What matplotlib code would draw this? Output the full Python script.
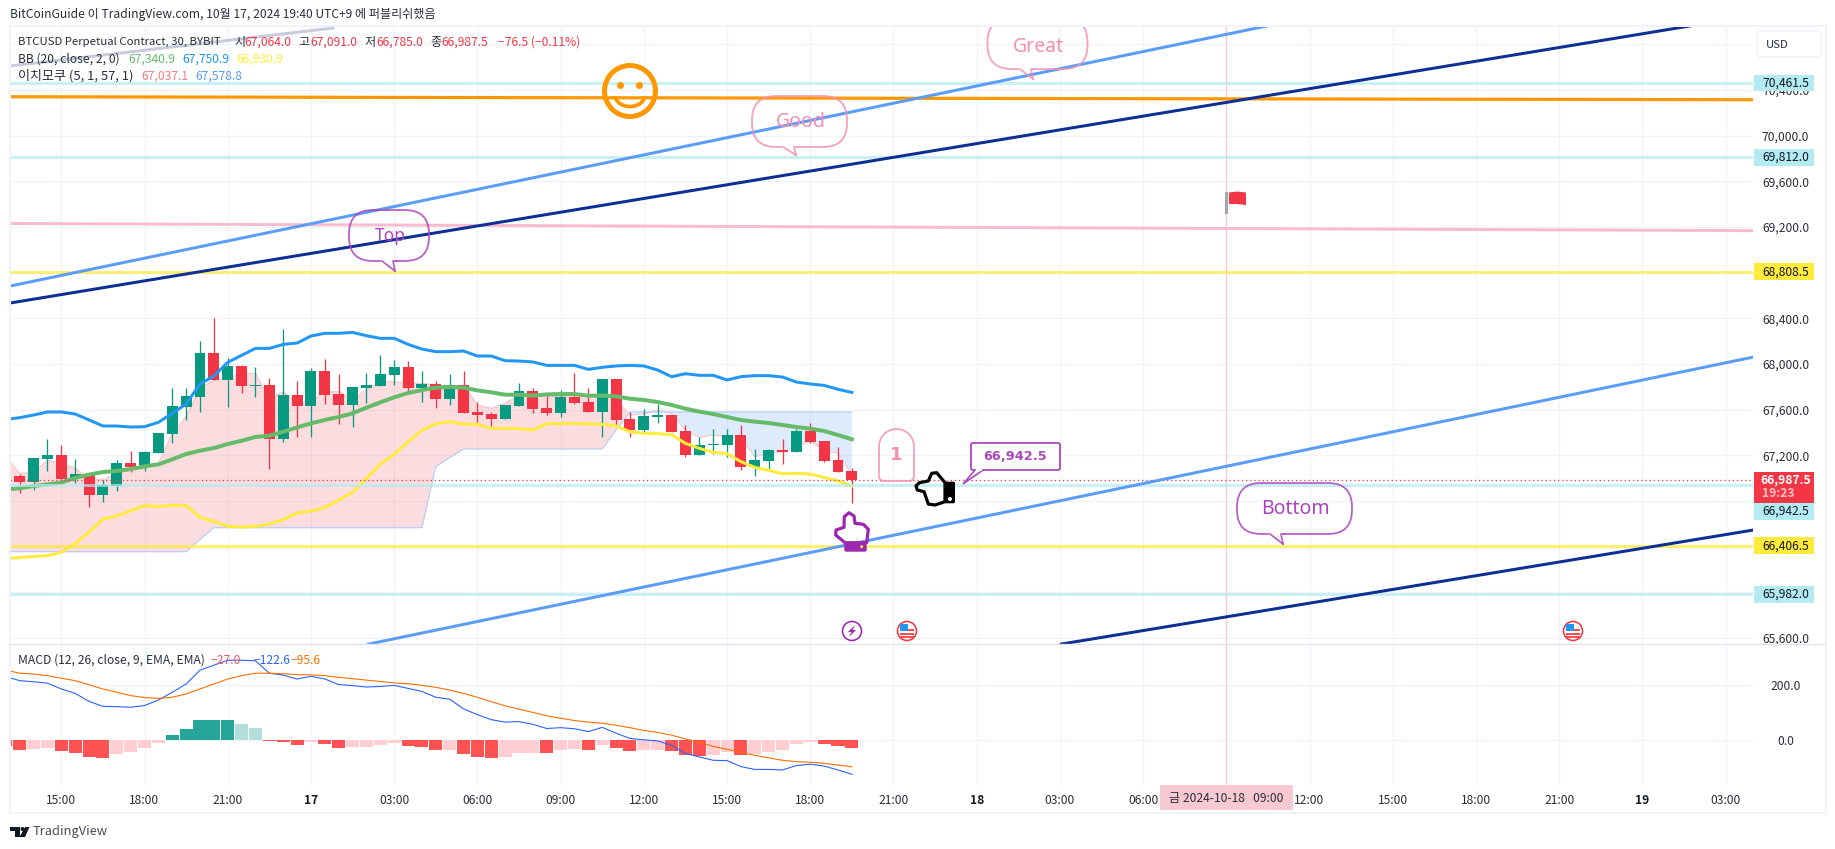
#!/usr/bin/env python3
"""
BTCUSD 30m TradingView snapshot - candles, BB, Ichimoku cloud, MACD and drawings
"""

import numpy as np
import matplotlib
matplotlib.use('Agg')  # Non-interactive backend
import matplotlib.pyplot as plt
from matplotlib.patches import Rectangle, FancyBboxPatch, Ellipse, Arc, Circle, Polygon, PathPatch
from matplotlib.path import Path
from matplotlib.transforms import blended_transform_factory

plt.rcParams['font.family'] = ['Noto Sans CJK KR', 'DejaVu Sans']

# ==================== Data ====================
# bars are numbered from 15:00 on the 16th, 30 minutes each
candle_start = -3
opens = [67019, 66969, 67168, 67203, 67002, 67037, 66853, 66931, 67133, 67115, 67220, 67387, 67623, 67711, 68096,
         67860, 67982, 67807, 67816, 67343, 67728, 67632, 67939, 67737, 67641, 67790, 67807, 67904, 67974, 67790,
         67825, 67693, 67816, 67580, 67562, 67518, 67632, 67764, 67615, 67571, 67711, 67667, 67580, 67869, 67518,
         67422, 67536, 67553, 67413, 67203, 67291, 67291, 67378, 67098, 67150, 67247, 67229, 67413, 67326, 67159,
         67064]
highs = [67037, 67177, 67343, 67291, 67168, 67037, 66984, 67159, 67238, 67238, 67396, 67790, 67790, 68202, 68403,
         68053, 67991, 67974, 67877, 68307, 67851, 67965, 68044, 67912, 67799, 67921, 68079, 68035, 68026, 67939,
         67851, 67912, 67939, 67667, 67580, 67641, 67834, 67790, 67720, 67772, 67921, 67790, 67869, 67869, 67580,
         67606, 67650, 67553, 67466, 67361, 67431, 67431, 67466, 67255, 67255, 67343, 67431, 67483, 67326, 67273,
         67091]
lows = [66873, 66896, 67063, 66984, 66961, 66747, 66791, 66888, 67054, 67063, 67220, 67308, 67510, 67580, 67860,
        67623, 67746, 67711, 67080, 67317, 67361, 67361, 67650, 67474, 67448, 67658, 67807, 67816, 67764, 67667,
        67615, 67641, 67574, 67492, 67457, 67518, 67632, 67571, 67553, 67536, 67650, 67580, 67361, 67466, 67361,
        67404, 67483, 67404, 67185, 67203, 67212, 67185, 67072, 67019, 67080, 67124, 67229, 67308, 67142, 67054,
        66785]
closes = [66969, 67177, 67203, 66993, 67037, 66853, 66940, 67133, 67098, 67229, 67396, 67632, 67720, 68096, 67860,
          67982, 67807, 67816, 67343, 67728, 67632, 67939, 67728, 67641, 67799, 67816, 67912, 67974, 67790, 67825,
          67693, 67816, 67574, 67553, 67518, 67641, 67764, 67606, 67571, 67711, 67658, 67580, 67869, 67510, 67422,
          67545, 67553, 67404, 67203, 67291, 67299, 67378, 67098, 67159, 67247, 67229, 67413, 67317, 67150, 67054,
          66987.5]

# indicators start one bar earlier than the candles
indicator_start = -4
bb_upper = [67515, 67530, 67553, 67580, 67580, 67562, 67510, 67457, 67457, 67448, 67451, 67489, 67568, 67650, 67825,
            67895, 68015, 68076, 68137, 68137, 68172, 68184, 68245, 68269, 68269, 68277, 68248, 68225, 68225, 68172,
            68131, 68108, 68108, 68114, 68070, 68070, 68029, 68026, 68018, 67988, 67988, 67988, 67953, 67971, 67983,
            67988, 67983, 67947, 67889, 67915, 67901, 67901, 67860, 67889, 67898, 67898, 67886, 67842, 67825, 67813,
            67778, 67750.9]
bb_basis = [66902, 66911, 66931, 66946, 66961, 67002, 67031, 67054, 67063, 67080, 67104, 67121, 67165, 67212, 67241,
            67264, 67299, 67328, 67361, 67372, 67407, 67445, 67480, 67510, 67536, 67568, 67618, 67664, 67708, 67746,
            67772, 67793, 67799, 67793, 67769, 67752, 67731, 67731, 67723, 67734, 67737, 67737, 67723, 67723, 67717,
            67696, 67685, 67667, 67641, 67609, 67583, 67562, 67536, 67510, 67495, 67483, 67466, 67448, 67434, 67413,
            67378, 67340.9]
bb_lower = [66298, 66304, 66315, 66321, 66350, 66429, 66526, 66642, 66669, 66715, 66759, 66750, 66762, 66759, 66657,
            66622, 66578, 66572, 66578, 66598, 66639, 66695, 66712, 66744, 66809, 66876, 66998, 67124, 67209, 67320,
            67419, 67477, 67495, 67472, 67472, 67436, 67436, 67434, 67422, 67477, 67480, 67480, 67474, 67472, 67457,
            67407, 67393, 67390, 67381, 67305, 67261, 67226, 67215, 67145, 67095, 67069, 67039, 67042, 67036, 67007,
            66975, 66930.9]
lead_1 = [67188, 67042, 67051, 67156, 67130, 67086, 66999, 66984, 67042, 67072, 67086, 67130, 67393, 67539, 67787,
          67860, 67874, 67918, 67918, 67699, 67758, 67655, 67670, 67758, 67758, 67693, 67772, 67845, 67845, 67831,
          67831, 67816, 67807, 67816, 67641, 67612, 67655, 67728, 67743, 67714, 67714, 67728, 67714, 67699, 67685,
          67553, 67562, 67597, 67568, 67422, 67358, 67378, 67358, 67358, 67188, 67217, 67232, 67276, 67326, 67247,
          67217, 67037.1]
lead_2 = [66356, 66356, 66356, 66356, 66356, 66356, 66356, 66356, 66356, 66356, 66356, 66356, 66356, 66356, 66464,
          66566, 66566, 66566, 66566, 66566, 66566, 66566, 66566, 66566, 66566, 66566, 66566, 66566, 66566, 66566,
          66566, 67101, 67180, 67255, 67255, 67255, 67255, 67255, 67255, 67255, 67255, 67255, 67255, 67255, 67422,
          67580, 67580, 67580, 67580, 67580, 67580, 67580, 67580, 67580, 67580, 67580, 67580, 67580, 67580, 67580,
          67580, 67578.8]

macd_hist = [-22, -36, -32, -29, -40, -47, -61, -62, -50, -43, -29, -11, 18, 40, 72,
             72, 75, 58, 43, -4, -7, -18, -7, -14, -29, -25, -25, -18, -11, -22,
             -25, -36, -36, -50, -61, -65, -61, -47, -46, -47, -36, -32, -36, -18, -29,
             -40, -36, -36, -40, -54, -58, -54, -43, -54, -50, -43, -36, -14, -7, -14,
             -22, -27]
macd_line = [231, 216, 212, 207, 186, 170, 141, 123, 122, 120, 126, 146, 174, 204, 254,
             272, 290, 290, 288, 243, 236, 222, 232, 222, 202, 198, 193, 195, 199, 188,
             177, 156, 149, 114, 93, 75, 66, 68, 58, 43, 46, 42, 32, 47, 26,
             7, 2, -2, -18, -47, -60, -72, -73, -95, -105, -105, -107, -91, -86, -93,
             -107, -122.6]
macd_signal = [254, 243, 240, 234, 225, 216, 201, 186, 174, 162, 155, 152, 156, 168, 186,
               204, 222, 234, 243, 243, 241, 238, 237, 234, 228, 223, 218, 213, 208, 205,
               199, 192, 182, 170, 156, 140, 125, 113, 101, 89, 80, 72, 66, 62, 55,
               46, 36, 29, 19, 5, -7, -22, -32, -43, -54, -63, -72, -77, -79, -83,
               -89, -95.6]

# horizontal levels and trend lines drawn on the chart
cyan_levels = [70461.5, 69812.0, 66942.5, 65982.0]
yellow_levels = [68808.5, 66406.5]
last_price = 66987.5
orange_line = ([-3.7, 122.0], [70341, 70315])
pink_line = ([-3.7, 122.0], [69231, 69168])
gray_line = ([-3.7, 19.6], [70610, 70943])
blue_upper = ([-3.7, 122.0], [68683, 71843])
blue_lower = ([22.16, 122.0], [65547, 68061])
navy_upper = ([-3.7, 122.0], [68534, 71053])
navy_lower = ([72.1, 122.0], [65547, 66546])
crosshair_bar = 84

price_ticks = [65600, 66000, 66400, 66800, 67200, 67600, 68000, 68400, 68800, 69200, 69600, 70000, 70400, 70800]
hidden_price_labels = [66000, 66400, 66800, 70800]  # sit under tags or the USD button
macd_ticks = [0, 200]
time_ticks = [0, 6, 12, 18, 24, 30, 36, 42, 48, 54, 60, 66, 72, 78, 84, 90, 96, 102, 108, 114, 120]
time_labels = ['15:00', '18:00', '21:00', '17', '03:00', '06:00', '09:00', '12:00', '15:00', '18:00', '21:00',
               '18', '03:00', '06:00', '', '12:00', '15:00', '18:00', '21:00', '19', '03:00']

# ==================== Colours ====================
UP = '#089981'
DOWN = '#f23645'
TEXT = '#2a2e39'
GRID = '#f0f3fa'
PINK = '#f48fb1'
PURPLE = '#ab47bc'
DARK_PURPLE = '#9c27b0'
LW = 0.72  # points per pixel at dpi 100

W, H = 1835, 849
FS = 8.7


def style_pane(ax):
    ax.set_facecolor('none')
    for spine in ax.spines.values():
        spine.set_visible(False)
    ax.grid(True, color=GRID, linewidth=1.3 * LW)
    ax.set_axisbelow(True)
    ax.yaxis.tick_right()
    ax.tick_params(axis='both', length=0, labelsize=FS, labelcolor=TEXT)
    ax.tick_params(axis='y', pad=23.4)
    for label in ax.get_yticklabels():
        label.set_ha('center')


def draw_candles(ax):
    bars = np.arange(len(opens)) + candle_start
    o, h, l, c = map(np.array, (opens, highs, lows, closes))
    colors = [UP if c[i] >= o[i] else DOWN for i in range(len(o))]
    ax.vlines(bars, l, h, colors=colors, linewidth=1.3 * LW, zorder=3)
    ax.bar(bars, np.abs(c - o), bottom=np.minimum(o, c), width=0.79, color=colors, linewidth=0, zorder=3)


def draw_cloud(ax, bars):
    a, b = np.array(lead_1), np.array(lead_2)
    ax.fill_between(bars, a, b, where=a >= b, interpolate=True, color='#f23645', alpha=0.17, linewidth=0, zorder=1)
    ax.fill_between(bars, a, b, where=a <= b, interpolate=True, color='#5b9cf6', alpha=0.2, linewidth=0, zorder=1)
    ax.plot(bars, lead_1, color='#f7c6ca', linewidth=1.2 * LW, zorder=1.5)
    ax.plot(bars, lead_2, color='#b6cdf3', linewidth=1.2 * LW, zorder=1.5)


def price_tag(ax, price, color, text_color='#131722', tag_price=None):
    """Coloured label on the price scale, tag_price moves it off its real level"""
    y = price if tag_price is None else tag_price
    trans = blended_transform_factory(ax.transAxes, ax.transData)
    ax.add_patch(Rectangle((1 + 1 / 1743, y - 74), 60 / 1743, 148, transform=trans, facecolor=color,
                           edgecolor='none', clip_on=False, zorder=20))
    ax.text(1 + 32.5 / 1743, y, format(price, ',.1f'), transform=trans, ha='center', va='center',
            fontsize=FS, color=text_color, clip_on=False, zorder=21)


def bubble(ov, box, tip, color, label, clip=None, fontsize=14):
    """Speech bubble outline with a little tail, no fill so the lines show through"""
    x0, y0, x1, y1 = box
    patch = FancyBboxPatch((x0, y0), x1 - x0, y1 - y0, boxstyle='round,pad=0,rounding_size=24', fc='none', ec=color,
                           linewidth=1.8 * LW, alpha=0.85)
    ov.add_patch(patch)
    if clip is not None:
        patch.set_clip_path(Rectangle((0, clip), W, H, transform=ov.transData))
    base_left = tip[0] - 13
    ov.plot([base_left, tip[0] - 1], [y1, y1], color='white', linewidth=2.5 * LW)
    ov.plot([base_left, tip[0]], [y1, tip[1]], color=color, linewidth=1.8 * LW, alpha=0.85)
    ov.plot([tip[0], tip[0] - 2, tip[0] + 1], [tip[1], y1, y1], color=color, linewidth=1.8 * LW, alpha=0.85)
    ov.text((x0 + x1) / 2 + 1, (y0 + y1) / 2 + (0 if clip is None else 3), label, ha='center', va='center',
            color=color, fontsize=fontsize, family=['Noto Sans', 'DejaVu Sans'])


def hand(ov, outline, color):
    """Outlined hand icon from its corner points"""
    ov.add_patch(Polygon(outline, closed=True, fc='none', ec=color, linewidth=3.2 * LW, joinstyle='round'))


def us_flag(ov, x, y):
    ov.add_patch(Circle((x, y), 9.5, fc='white', ec=DOWN, linewidth=1.6 * LW))
    for dy in (-1, 3, 6):
        ov.add_patch(Rectangle((x - 7, y + dy - 0.8), 14, 1.8, fc='#ef5350', ec='none'))
    ov.add_patch(Rectangle((x - 7.5, y - 7), 8, 7, fc='#2196f3', ec='none'))


def draw_overlay(ov):
    # outer frame and pane separator
    ov.add_patch(Rectangle((9.5, 26), 1816, 787, fc='none', ec='#f0f3fa', linewidth=2 * LW))
    ov.plot([10, 1825], [644, 644], color='#e0e3eb', linewidth=1.3 * LW)

    # header
    ov.text(10, 14.5, 'BitCoinGuide 이 TradingView.com, 10월 17, 2024 19:40 UTC+9 에 퍼블리쉬했음', fontsize=FS,
            color=TEXT, va='center')

    # legend rows, x, text, colour, size
    rows = [
        (42, [(18, 'BTCUSD Perpetual Contract, 30, BYBIT', TEXT, 8.2), (234, '시', TEXT, FS), (244, '67,064.0', DOWN, FS),
              (298, '고', TEXT, FS), (310, '67,091.0', DOWN, FS), (364, '저', TEXT, FS), (376, '66,785.0', DOWN, FS),
              (430, '종', TEXT, FS), (441, '66,987.5', DOWN, FS), (498, '−76.5 (−0.11%)', DOWN, FS)]),
        (59, [(18, 'BB (20, close, 2, 0)', TEXT, FS), (128, '67,340.9', '#66bb6a', FS), (182, '67,750.9', '#2196f3', FS),
              (236, '66,930.9', '#ffeb3b', FS)]),
        (76, [(18, '이치모쿠 (5, 1, 57, 1)', TEXT, 9.4), (141, '67,037.1', '#f77c80', FS), (195, '67,578.8', '#5b9cf6', FS)]),
        (660, [(18, 'MACD (12, 26, close, 9, EMA, EMA)', TEXT, FS), (211, '−27.0', '#f7525f', FS),
               (254, '−122.6', '#2962ff', FS), (291, '−95.6', '#ff6d00', FS)]),
    ]
    for y, parts in rows:
        for x, text, color, size in parts:
            ov.text(x, y, text, fontsize=size, color=color, va='center')

    # USD button
    ov.add_patch(FancyBboxPatch((1757, 31), 64, 26, boxstyle='round,pad=0,rounding_size=4', fc='white', ec=GRID,
                                linewidth=1.5 * LW))
    ov.text(1766, 44.5, 'USD', fontsize=FS - 0.5, color=TEXT, va='center')

    # smiley
    ov.add_patch(Ellipse((630, 91), 51, 51, fc='none', ec='#ff9800', linewidth=5 * LW))
    ov.add_patch(Circle((620.5, 85.5), 3.5, fc='#ff9800', ec='none'))
    ov.add_patch(Circle((639.5, 85.5), 3.5, fc='#ff9800', ec='none'))
    ov.add_patch(Arc((630, 96), 29, 21, theta1=0, theta2=180, ec='#ff9800', linewidth=3.8 * LW))

    # speech bubbles
    bubble(ov, (987.5, 18, 1087.5, 69), (1033, 79), PINK, 'Great', clip=27)
    bubble(ov, (752, 96, 847, 147), (796, 155), PINK, 'Good')
    bubble(ov, (349, 210, 429, 261), (395, 271), PURPLE, 'Top', fontsize=12.5)
    bubble(ov, (1237, 483, 1352, 534), (1283, 544), PURPLE, 'Bottom')

    # the "1" note, round on top and nearly square below
    x0, x1, y0, y1, r = 879, 914, 429, 481, 17.5
    theta = np.linspace(np.pi, 2 * np.pi, 30)
    top = np.column_stack([(x0 + x1) / 2 + r * np.cos(theta), y0 + r + r * np.sin(theta)])
    outline = np.vstack([top, [[x1, y1 - 3], [x1 - 3, y1], [x0 + 3, y1], [x0, y1 - 3], top[0]]])
    ov.add_patch(PathPatch(Path(outline), fc='none', ec=PINK, linewidth=1.8 * LW, alpha=0.85))
    ov.text(896, 455, '1', color=PINK, fontsize=13, ha='center', va='center', family='DejaVu Sans', fontweight='bold')

    # price callout
    ov.add_patch(FancyBboxPatch((971, 443), 89, 27, boxstyle='round,pad=0,rounding_size=2', fc='white', ec=PURPLE,
                                linewidth=1.8 * LW))
    ov.add_patch(Polygon([(975, 470), (963, 484), (983, 470)], closed=False, fc='white', ec=PURPLE, linewidth=1.6 * LW))
    ov.plot([977, 981], [470, 470], color='white', linewidth=2 * LW)
    ov.text(1015.5, 456.5, '66,942.5', color=PURPLE, fontsize=9.3, ha='center', va='center', fontweight='bold',
            family='DejaVu Sans')

    # black hand pointing left
    hand(ov, [(916, 486), (919.3, 482.7), (928.3, 481), (931.7, 473.3), (936.7, 472.7), (945, 482.7), (945, 501.7),
              (935, 505), (928.3, 504), (924, 491.7), (917.3, 490)], 'black')
    ov.add_patch(FancyBboxPatch((945, 481.7), 10, 21.6, boxstyle='round,pad=0,rounding_size=1.5', fc='black', ec='none'))
    ov.add_patch(Circle((950, 499), 2, fc='white', ec='none'))

    # purple hand pointing up
    hand(ov, [(844.3, 516.7), (849, 512.7), (854, 516), (855, 523.3), (863.3, 524.3), (868.3, 529.3), (866.7, 542.7),
              (845, 542.7), (835.7, 535), (836, 530), (844, 527.3)], DARK_PURPLE)
    ov.add_patch(FancyBboxPatch((844.3, 542), 22.4, 9.7, boxstyle='round,pad=0,rounding_size=2', fc=DARK_PURPLE, ec='none'))
    ov.add_patch(Circle((861.7, 546.7), 1.5, fc='#ffeb3b', ec='none'))

    # flag on the crosshair
    ov.add_patch(Rectangle((1225, 191.5), 3, 22, fc='#a9a3ab', ec='none'))
    ov.add_patch(Polygon([(1229, 192.5), (1237, 191.5), (1246, 192.5), (1246, 205), (1237, 204), (1229, 204)],
                         fc=DOWN, ec='none'))

    # event icons
    ov.add_patch(Circle((852, 631), 9.5, fc='white', ec=DARK_PURPLE, linewidth=1.6 * LW))
    ov.add_patch(Polygon([(855, 625), (848, 632), (851.5, 632), (849, 637), (856, 630), (852.5, 630)],
                         fc=DARK_PURPLE, ec='none'))
    us_flag(ov, 907, 631)
    us_flag(ov, 1573, 631)

    # crosshair date label
    ov.add_patch(Rectangle((1160, 785), 133, 25, fc='#f8c9d2', ec='none'))
    ov.text(1226.5, 798.5, '금 2024-10-18   09:00', fontsize=FS, color=TEXT, ha='center', va='center')

    # footer logo
    ov.add_patch(Polygon([(10, 827), (20, 827), (20, 837), (15, 837), (15, 831), (10, 831)], fc='#131722', ec='none'))
    ov.add_patch(Circle((22.5, 829), 2, fc='#131722', ec='none'))
    ov.add_patch(Polygon([(25, 827), (29.5, 827), (25, 837), (19.5, 837)], fc='#131722', ec='none'))
    ov.text(33, 832, 'TradingView', fontsize=9.3, color='#4a4e59', va='center')


def main():
    fig = plt.figure(figsize=(W / 100, H / 100), dpi=100, facecolor='white')

    # ==================== Price pane ====================
    ax = fig.add_axes([10 / W, 1 - 644 / H, 1743 / W, 617 / H])
    ax.set_xlim(-3.70, 121.97)
    ax.set_ylim(65547.5, 70952)
    ax.set_xticks(time_ticks)
    ax.set_xticklabels([])
    ax.set_yticks(price_ticks)
    ax.set_yticklabels(['' if p in hidden_price_labels else format(p, ',.1f') for p in price_ticks])
    style_pane(ax)

    bars = np.arange(len(bb_upper)) + indicator_start
    draw_cloud(ax, bars)
    draw_candles(ax)
    ax.plot(bars, bb_upper, color='#2196f3', linewidth=3 * LW, zorder=4)
    ax.plot(bars, bb_lower, color='#ffeb3b', linewidth=3 * LW, zorder=4)
    ax.plot(bars, bb_basis, color='#66bb6a', linewidth=4 * LW, zorder=4)

    ax.axvline(crosshair_bar, color='#f8c9d2', linewidth=1.3 * LW, zorder=2)
    ax.axhline(last_price, color=DOWN, linewidth=1.3 * LW, linestyle=(0, (1, 2.2)), zorder=5)

    # drawings
    for level in cyan_levels:
        ax.axhline(level, color='#b2ebf2', alpha=0.7, linewidth=3 * LW, zorder=5)
    for level in yellow_levels:
        ax.axhline(level, color='#ffeb3b', alpha=0.7, linewidth=3 * LW, zorder=5)
    ax.plot(*pink_line, color='#f8bbd0', linewidth=3 * LW, zorder=5)
    ax.plot(*orange_line, color='#ff9800', linewidth=3.2 * LW, zorder=5)
    ax.plot(*gray_line, color='#c9cbdc', linewidth=3 * LW, zorder=5)
    for line in (blue_upper, blue_lower):
        ax.plot(*line, color='#5b9cf6', linewidth=3 * LW, zorder=6)
    for line in (navy_upper, navy_lower):
        ax.plot(*line, color='#0d2f94', linewidth=3 * LW, zorder=6)

    # price scale tags
    price_tag(ax, 70461.5, '#b2ebf2')
    price_tag(ax, 69812.0, '#b2ebf2')
    price_tag(ax, 68808.5, '#ffeb3b')
    price_tag(ax, 66942.5, '#b2ebf2', tag_price=66708)
    price_tag(ax, 66406.5, '#ffeb3b')
    price_tag(ax, 65982.0, '#b2ebf2')
    # red tag is taller, holds the countdown too
    trans = blended_transform_factory(ax.transAxes, ax.transData)
    ax.add_patch(Rectangle((1 + 1 / 1743, 66782), 60 / 1743, 272, transform=trans, facecolor=DOWN,
                           edgecolor='none', clip_on=False, zorder=20))
    ax.text(1 + 32.5 / 1743, 66987, format(last_price, ',.1f'), transform=trans, ha='center', va='center',
            fontsize=FS, color='white', fontweight='bold', clip_on=False, zorder=21)
    ax.text(1 + 9 / 1743, 66864, '19:23', transform=trans, ha='left', va='center',
            fontsize=FS, color='#fbc2c7', fontweight='bold', clip_on=False, zorder=21)

    # ==================== MACD pane ====================
    ax2 = fig.add_axes([10 / W, 1 - 786 / H, 1743 / W, 141 / H])
    ax2.set_xlim(-3.70, 121.97)
    ax2.set_ylim(-165, 345)
    ax2.set_xticks(time_ticks)
    ax2.set_xticklabels(time_labels)
    ax2.set_yticks(macd_ticks)
    ax2.set_yticklabels([format(v, '.1f') for v in macd_ticks])
    style_pane(ax2)
    ax2.tick_params(axis='x', pad=5.5)
    for label in ax2.get_xticklabels():
        if len(label.get_text()) == 2:
            label.set_color('#131722')
            label.set_fontweight('bold')

    hist_colors = []
    prev = macd_hist[0] + 1
    for value in macd_hist:
        if value >= 0:
            hist_colors.append('#26a69a' if value >= prev else '#b2dfdb')
        else:
            hist_colors.append('#ffcdd2' if value >= prev else '#ff5252')
        prev = value
    ax2.bar(bars, macd_hist, width=0.94, color=hist_colors, linewidth=0, zorder=2)
    ax2.plot(bars, macd_line, color='#2962ff', linewidth=1.1 * LW, zorder=3)
    ax2.plot(bars, macd_signal, color='#ff6d00', linewidth=1.1 * LW, zorder=3)
    ax2.axvline(crosshair_bar, color='#f8c9d2', linewidth=1.3 * LW, zorder=1)

    # ==================== Overlay in pixel coordinates ====================
    ov = fig.add_axes([0, 0, 1, 1], zorder=5)
    ov.set_xlim(0, W)
    ov.set_ylim(H, 0)
    ov.axis('off')
    ov.patch.set_alpha(0)
    draw_overlay(ov)

    fig.savefig('out.png', dpi=100, facecolor='white')
    plt.close(fig)


if __name__ == "__main__":
    main()
